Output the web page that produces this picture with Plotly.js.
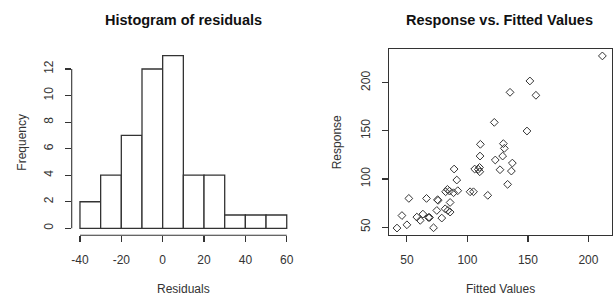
<!DOCTYPE html>
<html>
<head>
<meta charset="utf-8">
<script src="https://cdn.plot.ly/plotly-3.0.1.min.js"></script>
<style>html,body{margin:0;padding:0;background:#fff;}#chart{width:613px;height:296px;}</style>
</head>
<body>
<div id="chart"></div>
<script>
// Histogram of residuals
const binEdges = [-40, -30, -20, -10, 0, 10, 20, 30, 40, 50, 60];
const counts = [2, 4, 7, 12, 13, 4, 4, 1, 1, 1];
const histXTicks = [-40, -20, 0, 20, 40, 60];
const histXTickText = ['-40', '-20', '0', '20', '40', '60'];
const histYTicks = [0, 2, 4, 6, 8, 10, 12];

// Response vs. Fitted Values
const fitted = [41.8,45.9,50,51.6,58.2,61,63.2,66.2,67.8,68.7,72,74.7,75.3,75.8,78.8,81.6,82,83.5,85.2,83.8,85.7,85.7,88.5,89,91.2,92,102.2,105,106,109,110,110.2,110.7,110.4,116.8,122.2,123,126.9,129.7,130.5,129.1,133.2,135.2,136.3,137.1,149.2,151.6,156.6,211.5];
const response = [49,62,52.4,79.8,60.4,57,63.5,79.8,60,60,49.3,67.3,78.4,77.8,59.4,69,86.7,89.2,87.4,67.3,65.6,75.6,85.7,110.3,98.9,87.8,86.7,86.7,110.3,110,112,107.5,136,123.8,83,158.8,119.7,109.6,136.7,131.8,123.8,94.4,190,108.2,116.5,149.8,201.8,186.9,227.8];
const scatXTicks = [50, 100, 150, 200];
const scatYTicks = [50, 100, 150, 200];

const ink = '#333';
const font = 'Liberation Sans, Arial, sans-serif';

const centers = counts.map((c, i) => (binEdges[i] + binEdges[i + 1]) / 2);
const widths = counts.map((c, i) => binEdges[i + 1] - binEdges[i]);

const traces = [
  {
    type: 'bar', x: centers, y: counts, width: widths,
    marker: {color: '#fff', line: {color: ink, width: 1.3}},
    xaxis: 'x', yaxis: 'y', hoverinfo: 'none'
  },
  {
    type: 'scatter', mode: 'markers', x: fitted, y: response,
    marker: {symbol: 'diamond-open', size: 6, color: ink, line: {width: 1}},
    xaxis: 'x2', yaxis: 'y2', hoverinfo: 'none'
  }
];

const axCommon = {
  showgrid: false, zeroline: false, ticks: 'outside', ticklen: 6, tickwidth: 1.1,
  tickcolor: ink, tickfont: {family: font, size: 12, color: ink}, fixedrange: true
};

const layout = {
  width: 613, height: 296,
  margin: {l: 0, r: 0, t: 0, b: 0},
  paper_bgcolor: '#fff', plot_bgcolor: '#fff',
  showlegend: false,
  bargap: 0,
  xaxis: Object.assign({}, axCommon, {
    domain: [71.7 / 613, 295 / 613], range: [-44, 64],
    tickvals: histXTicks, ticktext: histXTickText, showline: false, anchor: 'y', ticklabelstandoff: 7
  }),
  yaxis: Object.assign({}, axCommon, {
    domain: [(296 - 235.2) / 296, (296 - 48.8) / 296], range: [-0.52, 13.52],
    tickvals: histYTicks, tickangle: -90, showline: false, anchor: 'x', ticklabelstandoff: 7
  }),
  xaxis2: Object.assign({}, axCommon, {
    domain: [389 / 613, 611.7 / 613], range: [35.2, 219.2],
    tickvals: scatXTicks, showline: true, mirror: true, linecolor: ink, linewidth: 1.1,
    anchor: 'y2', ticklabelstandoff: 7
  }),
  yaxis2: Object.assign({}, axCommon, {
    domain: [(296 - 235) / 296, (296 - 49) / 296], range: [41.8, 235],
    tickvals: scatYTicks, tickangle: -90, showline: true, mirror: true, linecolor: ink, linewidth: 1.1,
    anchor: 'x2', ticklabelstandoff: 7
  }),
  shapes: [
    {type: 'line', xref: 'x', yref: 'y domain', x0: histXTicks[0], x1: histXTicks[histXTicks.length - 1], y0: 0, y1: 0, line: {color: ink, width: 1.1}},
    {type: 'line', xref: 'x domain', yref: 'y', x0: 0, x1: 0, y0: histYTicks[0], y1: histYTicks[histYTicks.length - 1], line: {color: ink, width: 1.1}}
  ],
  annotations: [
    {text: '<b>Histogram of residuals</b>', xref: 'paper', yref: 'paper', x: 183 / 613, y: 1 - 20 / 296, showarrow: false, xanchor: 'center', yanchor: 'middle', font: {family: font, size: 14.5, color: '#111'}},
    {text: '<b>Response vs. Fitted Values</b>', xref: 'paper', yref: 'paper', x: 499 / 613, y: 1 - 20 / 296, showarrow: false, xanchor: 'center', yanchor: 'middle', font: {family: font, size: 14.5, color: '#111'}},
    {text: 'Residuals', xref: 'paper', yref: 'paper', x: 183 / 613, y: 1 - 288.5 / 296, showarrow: false, xanchor: 'center', yanchor: 'middle', font: {family: font, size: 12, color: ink}},
    {text: 'Fitted Values', xref: 'paper', yref: 'paper', x: 500 / 613, y: 1 - 288.5 / 296, showarrow: false, xanchor: 'center', yanchor: 'middle', font: {family: font, size: 12, color: ink}},
    {text: 'Frequency', xref: 'paper', yref: 'paper', x: 21.7 / 613, y: 1 - 142 / 296, showarrow: false, textangle: -90, xanchor: 'center', yanchor: 'middle', font: {family: font, size: 12, color: ink}},
    {text: 'Response', xref: 'paper', yref: 'paper', x: 337.3 / 613, y: 1 - 142 / 296, showarrow: false, textangle: -90, xanchor: 'center', yanchor: 'middle', font: {family: font, size: 12, color: ink}}
  ]
};

Plotly.newPlot('chart', traces, layout, {staticPlot: true, displayModeBar: false});
</script>
</body>
</html>
